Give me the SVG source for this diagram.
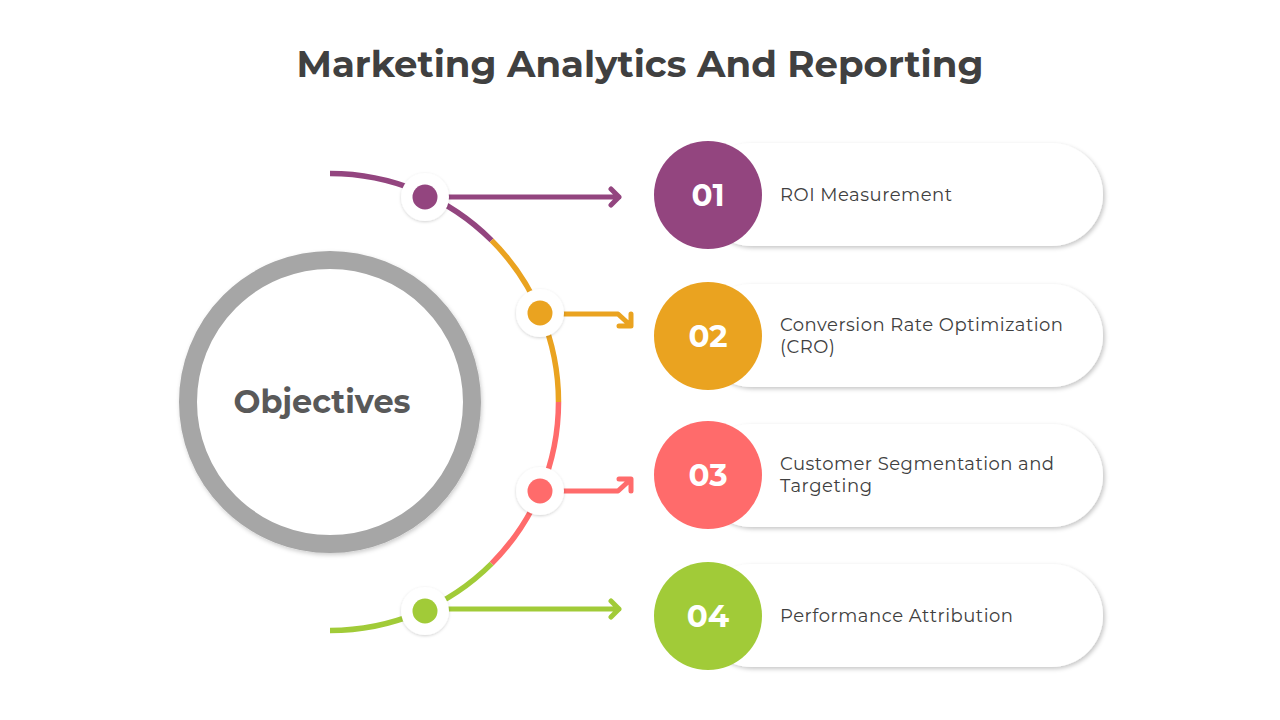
<svg xmlns="http://www.w3.org/2000/svg" width="1280" height="720" viewBox="0 0 1280 720">
<defs>
<filter id="sh" x="-20%" y="-30%" width="140%" height="160%">
<feDropShadow dx="2" dy="2" stdDeviation="2" flood-color="#000" flood-opacity="0.22"/>
</filter>
<filter id="dsh" x="-50%" y="-50%" width="200%" height="200%">
<feDropShadow dx="0" dy="1" stdDeviation="1.5" flood-color="#000" flood-opacity="0.18"/>
</filter>
<filter id="ring" x="-20%" y="-20%" width="140%" height="140%">
<feDropShadow dx="1" dy="2" stdDeviation="2" flood-color="#000" flood-opacity="0.2"/>
</filter>
</defs>
<style>
.t{font-family:"Montserrat","Inter","Liberation Sans",sans-serif}
.title{font-size:36px;font-weight:700;fill:#404040}
.lbl{font-size:18px;fill:#404040}
.num{font-size:31px;font-weight:700;fill:#fff}
.arc{fill:none;stroke-width:5.5}
.arw{fill:none;stroke-width:5;stroke-linecap:round;stroke-linejoin:round}
.pill{fill:#fff}
</style>
<rect width="1280" height="720" fill="#fff"/>
<text class="t title" x="640" y="77" text-anchor="middle" textLength="687" lengthAdjust="spacingAndGlyphs">Marketing Analytics And Reporting</text>

<g id="objectives">
<circle cx="330" cy="402" r="142" fill="#fff" stroke="#a6a6a6" stroke-width="18" filter="url(#ring)"/>
<text class="t" x="322" y="413" text-anchor="middle" font-size="32" font-weight="700" fill="#595959" textLength="177" lengthAdjust="spacingAndGlyphs">Objectives</text>
</g>

<g id="connectors">
<path class="arc" stroke="#93457f" d="M330,173.5 A228.5,228.5 0 0 1 491.6,240.4"/>
<path class="arc" stroke="#eaa320" d="M491.6,240.4 A228.5,228.5 0 0 1 558.5,402"/>
<path class="arc" stroke="#ff6b6b" d="M558.5,402 A228.5,228.5 0 0 1 491.6,563.6"/>
<path class="arc" stroke="#a1cb38" d="M491.6,563.6 A228.5,228.5 0 0 1 330,630.5"/>
<path class="arw" stroke="#93457f" d="M448,197 H619 M611,189 L619,197 L611,205"/>
<path class="arw" stroke="#eaa320" d="M562,314 H618 L630,325 M631,314 V326 H619"/>
<path class="arw" stroke="#ff6b6b" d="M562,491 H618 L630,480 M619,479 H631 V491"/>
<path class="arw" stroke="#a1cb38" d="M448,609 H619 M611,601 L619,609 L611,617"/>
</g>

<g id="dot1"><circle cx="425" cy="197" r="24" fill="#fff" filter="url(#dsh)"/><circle cx="425" cy="197" r="12.5" fill="#93457f"/></g>
<g id="dot2"><circle cx="540" cy="313" r="24" fill="#fff" filter="url(#dsh)"/><circle cx="540" cy="313" r="12.5" fill="#eaa320"/></g>
<g id="dot3"><circle cx="540" cy="491" r="24" fill="#fff" filter="url(#dsh)"/><circle cx="540" cy="491" r="12.5" fill="#ff6b6b"/></g>
<g id="dot4"><circle cx="425" cy="611" r="24" fill="#fff" filter="url(#dsh)"/><circle cx="425" cy="611" r="12.5" fill="#a1cb38"/></g>

<g id="item1">
<rect class="pill" x="700" y="143" width="403" height="103" rx="51.5" filter="url(#sh)"/>
<circle cx="708" cy="195" r="54" fill="#93457f"/>
<text class="t num" x="708" y="206" text-anchor="middle">01</text>
<text class="t lbl" x="780" y="201" textLength="172">ROI Measurement</text>
</g>
<g id="item2">
<rect class="pill" x="700" y="284" width="403" height="103" rx="51.5" filter="url(#sh)"/>
<circle cx="708" cy="336" r="54" fill="#eaa320"/>
<text class="t num" x="708" y="347" text-anchor="middle">02</text>
<text class="t lbl" x="780" y="331" textLength="283">Conversion Rate Optimization</text>
<text class="t lbl" x="780" y="353" textLength="55">(CRO)</text>
</g>
<g id="item3">
<rect class="pill" x="700" y="424" width="403" height="103" rx="51.5" filter="url(#sh)"/>
<circle cx="708" cy="475" r="54" fill="#ff6b6b"/>
<text class="t num" x="708" y="486" text-anchor="middle">03</text>
<text class="t lbl" x="780" y="470" textLength="274">Customer Segmentation and</text>
<text class="t lbl" x="780" y="492" textLength="92">Targeting</text>
</g>
<g id="item4">
<rect class="pill" x="700" y="564" width="403" height="103" rx="51.5" filter="url(#sh)"/>
<circle cx="708" cy="616" r="54" fill="#a1cb38"/>
<text class="t num" x="708" y="627" text-anchor="middle">04</text>
<text class="t lbl" x="780" y="622" textLength="233">Performance Attribution</text>
</g>
</svg>
